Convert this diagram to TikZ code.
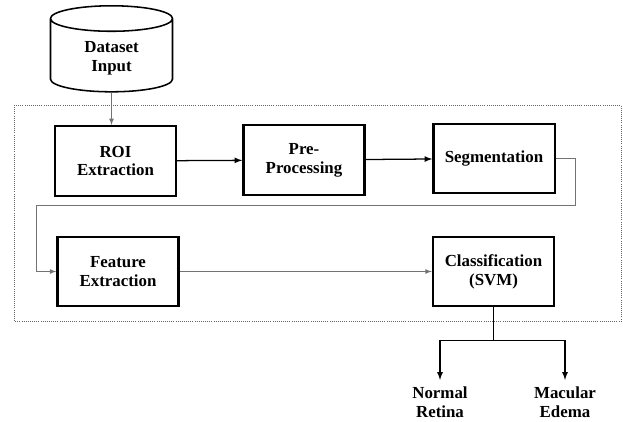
\documentclass[tikz,border=0pt]{standalone}
\usepackage{fontspec}
\setmainfont{Liberation Serif}
\usetikzlibrary{calc,positioning,shapes.geometric}
\tikzset{
   stage/.style={ rectangle, draw=black, line width=1.6pt, minimum width=3.03cm, minimum height=1.74cm, text centered, align=center, inner sep=2pt},
   source/.style={ cylinder, shape border rotate=90, draw=black, line width=1.1pt, aspect=0.4, minimum width=3.05cm, minimum height=2.15cm, align=center},
   outcome/.style={ align=center, inner sep=1pt},
   thin link/.style={->, draw=black!55, line width=0.6pt},
   thick link/.style={->, draw=black, line width=0.9pt},
   >=latex
}

\begin{document}
\begin{tikzpicture}[x=0.025cm,y=-0.025cm,font=\bfseries\fontsize{12}{13.5}\selectfont]

  \useasboundingbox (0,0) rectangle (623,421);

  %% Frame round the processing stages
  \draw[densely dotted, draw=black!60, line width=0.5pt] (14,105) rectangle (621,321);

  \node[source]  at (111.5,58)  (dataset)  {Dataset\\Input};

  \node[stage] at (115.5,161) (roi)      {ROI\\Extraction};
  \node[stage] at (304,160)   (preproc)  {Pre-\\Processing};
  \node[stage] at (494,158.5) (segment)  {Segmentation};
  \node[stage] at (118,271.5) (feature)  {Feature\\Extraction};
  \node[stage] at (493.5,271.5) (classify) {Classification\\(SVM)};

  \node[outcome] at (440,402) (normal)   {Normal\\Retina};
  \node[outcome] at (565,402) (macular)  {Macular\\Edema};

  \coordinate (split) at ($(classify.south)+(0,33)$);

  \draw[thin link]  (dataset.south) -- (dataset.south |- roi.north);
  \draw[thick link] (roi) -- (preproc);
  \draw[thick link] (preproc) -- (segment);

  %% Loop back to the second row
  \draw[thin link] (segment.east) -- ++(20,0) |- (36,205) |- (feature.west);

  \draw[thin link]  (feature) -- (classify);

  \draw[line width=0.9pt] (classify.south) -- (split);
  \draw[thick link] (split) -| ($(normal.north)+(0,-5)$);
  \draw[thick link] (split) -| ($(macular.north)+(0,-5)$);

\end{tikzpicture}
\end{document}
